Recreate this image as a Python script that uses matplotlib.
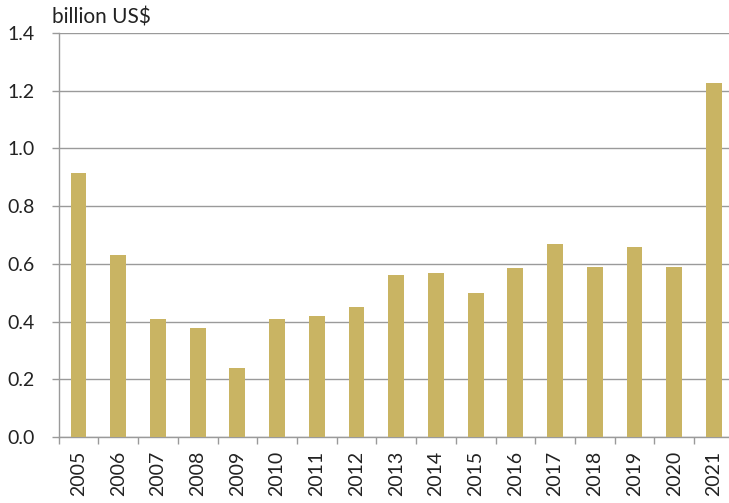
import matplotlib
matplotlib.use("Agg")
from matplotlib import pyplot as plt
import numpy as np

# data
years = ["2005", "2006", "2007", "2008", "2009", "2010", "2011", "2012", "2013",
         "2014", "2015", "2016", "2017", "2018", "2019", "2020", "2021"]
values = [0.915, 0.63, 0.41, 0.378, 0.24, 0.41, 0.42, 0.45, 0.56,
          0.57, 0.50, 0.585, 0.67, 0.59, 0.66, 0.59, 1.227]
yticks = [0.0, 0.2, 0.4, 0.6, 0.8, 1.0, 1.2, 1.4]
unit_label = "billion US$"

plt.rcParams['font.family'] = ['Lato', 'DejaVu Sans']

bar_color = "#C9B463"
grid_color = "#9a9a9a"
text_color = "#222222"

fig = plt.figure(figsize=(7.29, 5.03), dpi=100)
ax = fig.add_axes([0.0805, 0.1312, 0.9195, 0.8032])

x = np.arange(len(years))
ax.bar(x, values, width=0.4, color=bar_color, zorder=3)

ax.set_ylim(0, 1.4)
ax.set_xlim(-0.5, 16.38)
ax.set_yticks(yticks)
ax.set_yticklabels([f"{v:.1f}" for v in yticks], fontsize=14, color=text_color)
ax.yaxis.grid(True, color=grid_color, linewidth=1.0, zorder=0)
ax.tick_params(axis="y", length=5, color=grid_color, width=1.0, pad=12)

ax.set_xticks(x)
ax.set_xticklabels(years, rotation=90, fontsize=14, color=text_color)
ax.tick_params(axis="x", which="major", length=0, pad=10)
ax.set_xticks(np.arange(len(years)) - 0.5, minor=True)
ax.tick_params(axis="x", which="minor", length=5, color=grid_color, width=1.0)

for s in ["top", "right"]:
    ax.spines[s].set_visible(False)
for s in ["left", "bottom"]:
    ax.spines[s].set_color(grid_color)
    ax.spines[s].set_linewidth(1.0)

fig.text(52 / 729, 1 - 17 / 503, unit_label, fontsize=15, color=text_color,
         ha="left", va="center")

fig.savefig("out.png", dpi=100)
